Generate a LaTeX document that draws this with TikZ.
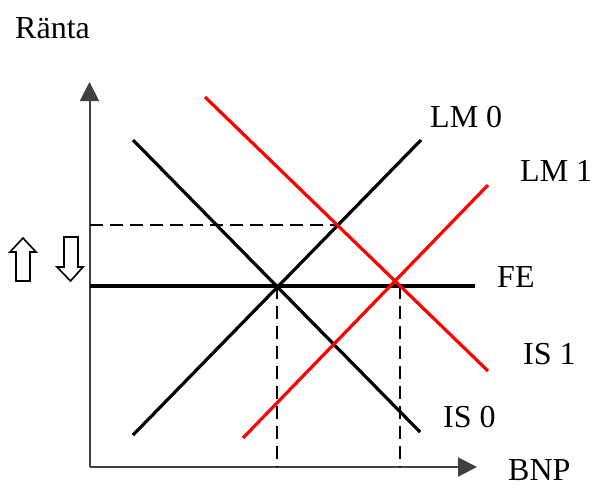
\documentclass[tikz,border=0pt]{standalone}
\usepackage{fontspec}
\setmainfont{Liberation Serif}
\usetikzlibrary{arrows.meta}
\begin{document}
\begin{tikzpicture}[x=1pt,y=-1pt,
  lab/.style={font=\fontsize{32}{36}\selectfont, inner sep=0pt, anchor=base west},
  axisline/.style={draw=black!75, line width=2pt, -{Triangle[length=19pt,width=19pt]}},
  curve/.style={line width=3.2pt},
  redcurve/.style={line width=3.2pt, draw=red},
  guide/.style={line width=1.8pt, dash pattern=on 13pt off 7pt},
  blockarrow/.style={draw=black, line width=1.6pt, fill=white, line join=miter}]
\useasboundingbox (0,0) rectangle (593,488);
% axes
\coordinate (O) at (89.5,467);
\coordinate (ytop) at (89.5,82);
\coordinate (xend) at (477,467);
\draw[axisline] (O) -- (ytop);
\draw[axisline] (O) -- (xend);
% curve endpoints
\coordinate (lm0a) at (133,435);
\coordinate (lm0b) at (421,140);
\coordinate (lm1a) at (243,438);
\coordinate (lm1b) at (488,185);
\coordinate (is0a) at (133,140);
\coordinate (is0b) at (420,432);
\coordinate (is1a) at (205,97);
\coordinate (is1b) at (488,371);
\coordinate (fea) at (89.5,286);
\coordinate (feb) at (475,286);
% guide points
\coordinate (e0) at (277,286);
\coordinate (e0x) at (277,467);
\coordinate (e1) at (400,286);
\coordinate (e1x) at (400,467);
\coordinate (ry) at (89.5,225);
\coordinate (rp) at (338,225);
% dashed guides
\draw[guide] (ry) -- (rp);
\draw[guide] (e0) -- (e0x);
\draw[guide] (e1) -- (e1x);
% curves
\draw[curve] (fea) -- (feb);
\draw[curve] (lm0a) -- (lm0b);
\draw[curve] (is0a) -- (is0b);
\draw[redcurve] (lm1a) -- (lm1b);
\draw[redcurve] (is1a) -- (is1b);
% block arrows
\draw[blockarrow] (23,238) -- (36,252) -- (30,252) -- (30,281) -- (16,281) -- (16,252) -- (10,252) -- cycle;
\draw[blockarrow] (70.5,281) -- (83,267) -- (78,267) -- (78,237) -- (64,237) -- (64,267) -- (57,267) -- cycle;
% labels
\node[lab] (ranta) at (15,38) {Ränta};
\node[lab] (llm0) at (430,127) {LM 0};
\node[lab] (llm1) at (520,181) {LM 1};
\node[lab] (lfe) at (497,287) {FE};
\node[lab] (lis1) at (523,364) {IS 1};
\node[lab] (lis0) at (443,427) {IS 0};
\node[lab] (lbnp) at (508,480) {BNP};
\end{tikzpicture}
\end{document}
